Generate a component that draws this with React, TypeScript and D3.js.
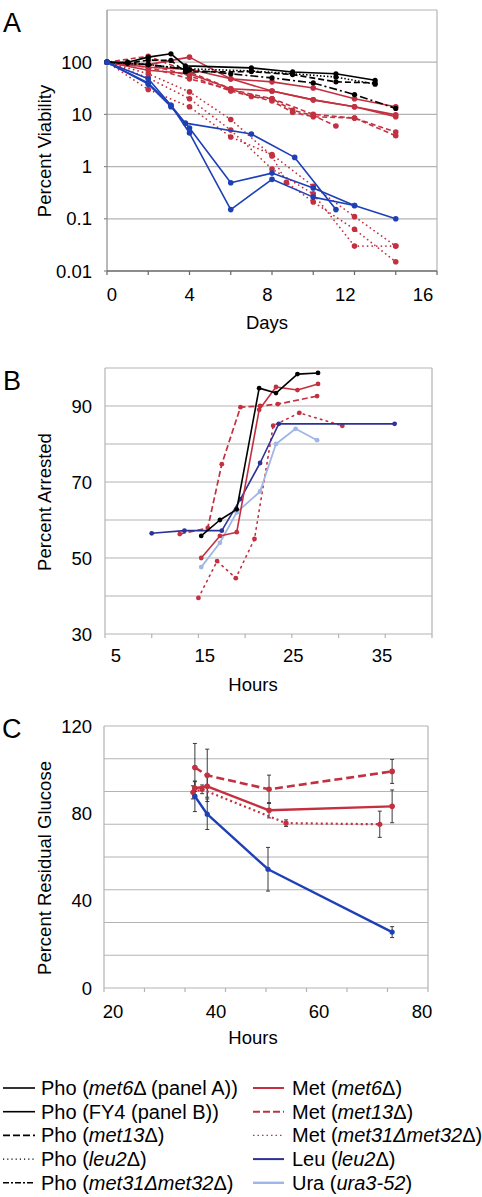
import React from "react";
import * as d3 from "d3";

// ---------- Panel A data: [day, percent viability] ----------
const phoMet6A: [number, number][] = [[0, 100], [1, 100], [2, 125], [3.1, 145], [3.8, 85], [7, 78], [9, 65], [11.1, 60], [13, 45]];
const phoMet13A: [number, number][] = [[0, 100], [1, 95], [2, 110], [3.1, 108], [3.8, 65], [7, 66], [9, 58], [11.1, 42], [13, 40]];
const phoLeu2A: [number, number][] = [[0, 100], [2, 90], [3.8, 75], [7, 68], [9, 60], [11.1, 52], [13, 38]];
const phoMet31A: [number, number][] = [[0, 100], [2, 90], [4, 72], [6, 60], [8, 50], [10, 40], [12, 24], [14, 13]];

const metMet6A1: [number, number][] = [[0, 100], [2, 90], [4, 125], [6, 48], [8, 42], [10, 32], [12, 20], [14, 14]];
const metMet6A2: [number, number][] = [[0, 100], [2, 80], [4, 73], [6, 48], [8, 28], [10, 19], [12, 14], [14, 9.8]];
const metMet6A3: [number, number][] = [[0, 100], [2, 70], [4, 60], [6, 31], [8, 28], [10, 19], [12, 14], [14, 9]];

const metMet13A1: [number, number][] = [[0, 100], [2, 130], [4, 65], [6, 31], [7, 22], [8, 20], [9, 12], [10, 9.5], [11.1, 6]];
const metMet13A2: [number, number][] = [[0, 100], [2, 80], [4, 48], [6, 30], [8, 20], [10, 10], [12, 8.5], [14, 4.6]];
const metMet13A3: [number, number][] = [[0, 100], [2, 90], [4, 55], [6, 28], [8, 18], [9, 11], [10, 9], [12, 8.5], [14, 3.9]];

const metMet31A1: [number, number][] = [[0, 100], [2, 30], [4, 14], [6, 3.7], [8, 1.7], [10, 0.42], [12, 0.11], [14, 0.03]];
const metMet31A2: [number, number][] = [[0, 100], [2, 60], [4, 27], [6, 8], [8, 1.6], [8.7, 0.5], [10, 0.21], [12, 0.063], [14, 0.015]];
const metMet31A3: [number, number][] = [[0, 100], [2, 50], [4, 20], [6, 5], [8, 0.9], [10, 0.3], [12, 0.03], [14, 0.03]];

const leuA1: [number, number][] = [[0, 100], [2, 48], [3.1, 15], [3.8, 6.8], [7, 4.2], [9.1, 1.5], [11.1, 0.15]];
const leuA2: [number, number][] = [[0, 100], [2, 38], [3.1, 14], [4, 5.5], [6, 0.49], [8, 0.75], [10, 0.39], [12, 0.18], [14, 0.1]];
const leuA3: [number, number][] = [[0, 100], [2, 40], [3.1, 15], [4, 4.4], [6, 0.15], [8, 0.57], [10, 0.26], [12, 0.18]];

const ticksAY = [0.01, 0.1, 1, 10, 100];
const gridAY = [0.1, 1, 10, 100, 1000];
const ticksAX = [0, 4, 8, 12, 16];
const minorAX = [0, 2, 4, 6, 8, 10, 12, 14, 16];

// ---------- Panel B data: [hours, percent arrested] ----------
const phoFY4B: [number, number][] = [[15.3, 55.8], [17.3, 60], [19.1, 62.8], [21.5, 94.7], [23.3, 93.4], [25.6, 98.4], [27.8, 98.7]];
const metMet6B: [number, number][] = [[15.3, 50], [17.3, 55.8], [19.1, 56.8], [21.5, 89], [23.3, 95], [25.6, 94.2], [27.8, 95.8]];
const metMet13B: [number, number][] = [[13, 56.3], [16, 57.9], [17.5, 74.7], [19.5, 89.7], [21.6, 90], [23.5, 90.5], [27.7, 92.6]];
const metMet31B: [number, number][] = [[15, 39.5], [17, 49.2], [19, 44.7], [21, 55], [23, 84.8], [25.8, 88.2], [30.4, 84.8]];
const leuB: [number, number][] = [[10, 56.5], [13.5, 57.2], [17.5, 57.2], [19.5, 65.5], [21.6, 75], [23.6, 85.3], [36, 85.3]];
const uraB: [number, number][] = [[15.3, 47.6], [17.3, 54], [19.1, 62], [21.6, 67.5], [23.3, 80], [25.4, 84], [27.7, 81]];

const ticksBY = [30, 50, 70, 90];
const gridBY = [40, 50, 60, 70, 80, 90, 100];
const ticksBX = [5, 15, 25, 35];
const minorBX = [5, 10, 15, 20, 25, 30, 35, 40];

// ---------- Panel C data: [hours, percent residual glucose, error] ----------
const metMet13C: [number, number, number][] = [[35.9, 101, 11], [38.3, 97.4, 12], [50.3, 91, 6.5], [74.2, 99.2, 5.5]];
const metMet6C: [number, number, number][] = [[35.9, 91.5, 3], [38.3, 92.4, 5], [50.3, 81.4, 3.5], [74.2, 83.2, 7.5]];
const metMet31C: [number, number, number][] = [[35.5, 89.6, 3], [37.3, 91, 2], [53.6, 75.5, 1.5], [71.8, 75, 6]];
const leuC: [number, number, number][] = [[35.9, 87.8, 7], [38.3, 79.6, 7], [50.1, 54.4, 10], [74.2, 25.6, 2.5]];

const ticksCY = [0, 40, 80, 120];
const gridCY = [15, 30, 45, 60, 75, 90, 105, 120];
const ticksCX = [20, 40, 60, 80];

// ---------- Legend ----------
const legendLeft = [
  ["Pho (", "met6", "Δ (panel A))"],
  ["Pho (FY4 (panel B))", "", ""],
  ["Pho (", "met13", "Δ)"],
  ["Pho (", "leu2", "Δ)"],
  ["Pho (", "met31Δmet32", "Δ)"],
];
const legendRight = [
  ["Met (", "met6", "Δ)"],
  ["Met (", "met13", "Δ)"],
  ["Met (", "met31Δmet32", "Δ)"],
  ["Leu (", "leu2", "Δ)"],
  ["Ura  (", "ura3-52", ")"],
];

const FONT = "'Liberation Sans', Arial, Helvetica, sans-serif";
const RED = "#c3303f";
const BLUE = "#1e40b6";
const NAVY = "#2c3396";
const LIGHTBLUE = "#9fb6e8";
const GRID = "#b4b4b4";

type Sty = { color: string; dash?: string; width: number; r: number; cap?: string };

const SOLID_BLACK: Sty = { color: "#000", width: 1.6, r: 2.6 };
const DASH_BLACK: Sty = { color: "#000", width: 1.6, r: 2.6, dash: "6,3" };
const DOT_BLACK: Sty = { color: "#000", width: 1.6, r: 2.6, dash: "1.5,2" };
const DASHDOT_BLACK: Sty = { color: "#000", width: 1.6, r: 2.6, dash: "8,3,2,3" };
const SOLID_RED: Sty = { color: RED, width: 1.6, r: 2.8 };
const DASH_RED: Sty = { color: RED, width: 1.6, r: 2.8, dash: "5,3" };
const DOT_RED: Sty = { color: RED, width: 1.7, r: 2.8, dash: "0.1,4.5", cap: "round" };
const SOLID_BLUE: Sty = { color: BLUE, width: 1.6, r: 2.8 };

function Series({ data, x, y, s }: { data: [number, number][]; x: any; y: any; s: Sty }) {
  const line = d3.line<[number, number]>().x((d) => x(d[0])).y((d) => y(d[1]));
  return (
    <g>
      <path d={line(data) || ""} fill="none" stroke={s.color} strokeWidth={s.width}
        strokeDasharray={s.dash} strokeLinecap={(s.cap as any) || "butt"} strokeLinejoin="round" />
      {data.map((d, i) => (
        <circle key={i} cx={x(d[0])} cy={y(d[1])} r={s.r} fill={s.color} />
      ))}
    </g>
  );
}

function LegendText({ parts, x, y }: { parts: string[]; x: number; y: number }) {
  return (
    <text x={x} y={y} fontSize={20} fontFamily={FONT} fill="#000">
      <tspan>{parts[0]}</tspan>
      {parts[1] ? <tspan fontStyle="italic">{parts[1]}</tspan> : null}
      {parts[2] ? <tspan>{parts[2]}</tspan> : null}
    </text>
  );
}

export default function App() {
  // Panel A scales
  const xA = d3.scaleLinear().domain([0, 16]).range([107, 437]);
  const xALab = d3.scaleLinear().domain([0, 16]).range([112, 423]);
  const yA = d3.scaleLog().domain([0.01, 1000]).range([271, 10]);

  // Panel B scales
  const xB = d3.scaleLinear().domain([5, 40]).range([105, 432]);
  const xBLab = d3.scaleLinear().domain([5, 35]).range([116, 382]);
  const yB = d3.scaleLinear().domain([30, 100]).range([634, 368]);

  // Panel C scales
  const xC = d3.scaleLinear().domain([20, 80]).range([113, 422]);
  const cLeft = 104, cRight = 428;
  const yC = d3.scaleLinear().domain([0, 120]).range([988, 726]);
  const minorCX = d3.range(9).map((i) => cLeft + (i * (cRight - cLeft)) / 8);

  const aSeries: [[number, number][], Sty][] = [
    [metMet31A1, DOT_RED], [metMet31A2, DOT_RED], [metMet31A3, DOT_RED],
    [metMet13A1, DASH_RED], [metMet13A2, DASH_RED], [metMet13A3, DASH_RED],
    [metMet6A1, SOLID_RED], [metMet6A2, SOLID_RED], [metMet6A3, SOLID_RED],
    [phoLeu2A, DOT_BLACK], [phoMet13A, DASH_BLACK], [phoMet31A, DASHDOT_BLACK], [phoMet6A, SOLID_BLACK],
    [leuA1, SOLID_BLUE], [leuA2, SOLID_BLUE], [leuA3, SOLID_BLUE],
  ];

  const bSeries: [[number, number][], Sty][] = [
    [metMet31B, { color: RED, width: 1.6, r: 2.4, dash: "1.5,4.5", cap: "round" }],
    [metMet13B, { color: RED, width: 1.7, r: 2.4, dash: "6,3" }],
    [uraB, { color: LIGHTBLUE, width: 1.8, r: 2.4 }],
    [leuB, { color: NAVY, width: 1.6, r: 2.4 }],
    [metMet6B, { color: RED, width: 1.6, r: 2.4 }],
    [phoFY4B, { color: "#000", width: 1.6, r: 2.4 }],
  ];

  const cSeries: [[number, number, number][], Sty][] = [
    [metMet31C, { color: RED, width: 2.2, r: 2.6, dash: "2,3" }],
    [metMet13C, { color: RED, width: 2.6, r: 2.8, dash: "8,4" }],
    [metMet6C, { color: RED, width: 2.4, r: 2.8 }],
    [leuC, { color: BLUE, width: 2.4, r: 2.6 }],
  ];

  const legendLeftStyles: Sty[] = [SOLID_BLACK, SOLID_BLACK, { color: "#000", width: 1.6, r: 0, dash: "7,3" }, { color: "#000", width: 1.4, r: 0, dash: "1.2,3" }, { color: "#000", width: 1.6, r: 0, dash: "6,2,2,2" }];
  const legendRightStyles: Sty[] = [
    { color: RED, width: 2, r: 0 }, { color: RED, width: 2, r: 0, dash: "7,3" }, { color: RED, width: 1.4, r: 0, dash: "1.5,3" },
    { color: NAVY, width: 2, r: 0 }, { color: LIGHTBLUE, width: 2.4, r: 0 },
  ];
  const legendRows = d3.range(5).map((i) => 1088 + i * 23.7);

  return (
    <svg width={482} height={1197} style={{ position: "absolute", left: 0, top: 0, background: "#fff" }}
      fontFamily={FONT}>
      {/* ================= Panel A ================= */}
      <text x={3} y={32} fontSize={27}>A</text>
      {gridAY.map((v) => (
        <line key={v} x1={xA(0)} x2={xA(16)} y1={yA(v)} y2={yA(v)} stroke={GRID} strokeWidth={1.2} />
      ))}
      <line x1={xA(16)} x2={xA(16)} y1={yA(1000)} y2={yA(0.01)} stroke={GRID} strokeWidth={1.2} />
      <line x1={xA(0)} x2={xA(0)} y1={yA(1000)} y2={yA(0.01)} stroke="#8a8a8a" strokeWidth={1.2} />
      <line x1={xA(0)} x2={xA(16)} y1={yA(0.01)} y2={yA(0.01)} stroke="#666" strokeWidth={1.4} />
      {minorAX.map((d) => (
        <line key={d} x1={xA(d)} x2={xA(d)} y1={yA(0.01)} y2={yA(0.01) + 4} stroke="#666" strokeWidth={1.2} />
      ))}
      {ticksAY.map((v) => (
        <line key={v} x1={xA(0) - 3} x2={xA(0)} y1={yA(v)} y2={yA(v)} stroke="#8a8a8a" strokeWidth={1.2} />
      ))}
      {aSeries.map(([d, s], i) => (
        <Series key={i} data={d} x={xA} y={yA} s={s} />
      ))}
      {ticksAY.map((v) => (
        <text key={v} x={92} y={yA(v) + 6.5} fontSize={18.5} textAnchor="end">{String(v)}</text>
      ))}
      {ticksAX.map((v) => (
        <text key={v} x={xALab(v)} y={301} fontSize={18.5} textAnchor="middle">{v}</text>
      ))}
      <text x={267} y={329} fontSize={18.5} textAnchor="middle">Days</text>
      <text transform="translate(51,151) rotate(-90)" fontSize={18.5} textAnchor="middle">Percent Viability</text>

      {/* ================= Panel B ================= */}
      <text x={3} y={390} fontSize={27}>B</text>
      {gridBY.map((v) => (
        <line key={v} x1={xB(5)} x2={xB(40)} y1={yB(v)} y2={yB(v)} stroke={GRID} strokeWidth={1.2} />
      ))}
      <line x1={xB(40)} x2={xB(40)} y1={yB(100)} y2={yB(30)} stroke={GRID} strokeWidth={1.2} />
      <line x1={xB(5)} x2={xB(5)} y1={yB(100)} y2={yB(30)} stroke={GRID} strokeWidth={1.2} />
      <line x1={xB(5)} x2={xB(40)} y1={yB(30)} y2={yB(30)} stroke={GRID} strokeWidth={1.2} />
      {minorBX.map((d) => (
        <line key={d} x1={xB(d)} x2={xB(d)} y1={yB(30)} y2={yB(30) + 4} stroke={GRID} strokeWidth={1.2} />
      ))}
      {bSeries.map(([d, s], i) => (
        <Series key={i} data={d} x={xB} y={yB} s={s} />
      ))}
      {ticksBY.map((v) => (
        <text key={v} x={92} y={yB(v) + 6.5} fontSize={18.5} textAnchor="end">{v}</text>
      ))}
      {ticksBX.map((v) => (
        <text key={v} x={xBLab(v)} y={662} fontSize={18.5} textAnchor="middle">{v}</text>
      ))}
      <text x={253} y={691} fontSize={18.5} textAnchor="middle">Hours</text>
      <text transform="translate(51,502) rotate(-90)" fontSize={18.5} textAnchor="middle">Percent Arrested</text>

      {/* ================= Panel C ================= */}
      <text x={2} y={738} fontSize={27}>C</text>
      {gridCY.map((v) => (
        <line key={v} x1={cLeft} x2={cRight} y1={yC(v)} y2={yC(v)} stroke={GRID} strokeWidth={1.2} />
      ))}
      <line x1={cRight} x2={cRight} y1={yC(120)} y2={yC(0)} stroke={GRID} strokeWidth={1.2} />
      <line x1={cLeft} x2={cLeft} y1={yC(120)} y2={yC(0)} stroke={GRID} strokeWidth={1.2} />
      <line x1={cLeft} x2={cRight} y1={yC(0)} y2={yC(0)} stroke={GRID} strokeWidth={1.2} />
      {minorCX.map((px, i) => (
        <line key={i} x1={px} x2={px} y1={yC(0)} y2={yC(0) + 4} stroke={GRID} strokeWidth={1.2} />
      ))}
      {cSeries.map(([d, s], i) => (
        <g key={"e" + i}>
          {d.map((p, j) => (
            <g key={j} stroke="#3a3a3a" strokeWidth={1}>
              <line x1={xC(p[0])} x2={xC(p[0])} y1={yC(p[1] - p[2])} y2={yC(p[1] + p[2])} />
              <line x1={xC(p[0]) - 2} x2={xC(p[0]) + 2} y1={yC(p[1] - p[2])} y2={yC(p[1] - p[2])} />
              <line x1={xC(p[0]) - 2} x2={xC(p[0]) + 2} y1={yC(p[1] + p[2])} y2={yC(p[1] + p[2])} />
            </g>
          ))}
        </g>
      ))}
      {cSeries.map(([d, s], i) => (
        <Series key={i} data={d.map((p) => [p[0], p[1]] as [number, number])} x={xC} y={yC} s={s} />
      ))}
      {ticksCY.map((v) => (
        <text key={v} x={92} y={yC(v) + 6.5} fontSize={18.5} textAnchor="end">{v}</text>
      ))}
      {ticksCX.map((v) => (
        <text key={v} x={xC(v)} y={1018} fontSize={18.5} textAnchor="middle">{v}</text>
      ))}
      <text x={253} y={1044} fontSize={18.5} textAnchor="middle">Hours</text>
      <text transform="translate(51,868) rotate(-90)" fontSize={18.5} textAnchor="middle">Percent Residual Glucose</text>

      {/* ================= Legend ================= */}
      {legendLeft.map((parts, i) => (
        <g key={"l" + i}>
          <line x1={3} x2={35} y1={legendRows[i]} y2={legendRows[i]} stroke={legendLeftStyles[i].color}
            strokeWidth={legendLeftStyles[i].width} strokeDasharray={legendLeftStyles[i].dash} />
          <LegendText parts={parts} x={41} y={legendRows[i] + 7} />
        </g>
      ))}
      {legendRight.map((parts, i) => (
        <g key={"r" + i}>
          <line x1={253} x2={284} y1={legendRows[i]} y2={legendRows[i]} stroke={legendRightStyles[i].color}
            strokeWidth={legendRightStyles[i].width} strokeDasharray={legendRightStyles[i].dash} />
          <LegendText parts={parts} x={292} y={legendRows[i] + 7} />
        </g>
      ))}
    </svg>
  );
}
